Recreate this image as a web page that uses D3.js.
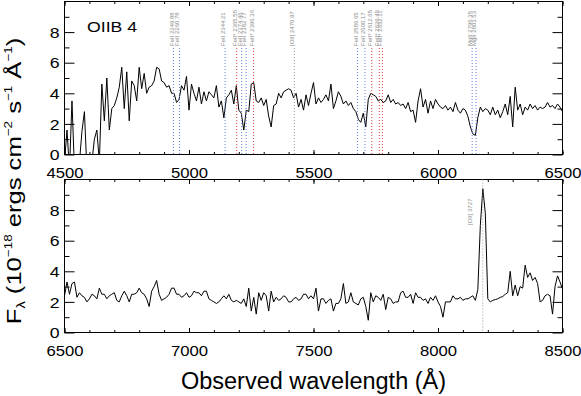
<!DOCTYPE html>
<html>
<head>
<meta charset="utf-8">
<script src="https://cdn.jsdelivr.net/npm/d3@7"></script>
<style>
  body { margin: 0; background: #fff; }
  svg { display: block; font-family: "Liberation Sans", Arial, Helvetica, sans-serif; }
</style>
</head>
<body>
<div id="chart"></div>
<script>
// spectrum is sampled every 10 Å, starting at the left edge of each panel
const topStart = 4500;
const botStart = 6500;
const sampleStep = 10;

// flux, 1e-18 erg/cm2/s/Å, 4500-6500 Å
const topFlux = [
  -0.5, 1.6, -1.0, 3.5, -1.0, -1.5, -0.5, 1.5, 2.8, -1.0,
  -1.5, -0.5, 1.0, 1.6, -0.5, 4.6, 2.2, 5.0, 1.6, 3.0,
  3.2, 3.7, 4.4, 5.7, 3.0, 5.4, 2.2, 4.8, 4.5, 3.5,
  5.7, 4.3, 5.3, 4.0, 4.4, 4.5, 4.8, 5.7, 5.6, 4.8,
  4.7, 4.4, 4.5, 4.0, 4.0, 3.4, 3.6, 4.5, 4.2, 5.1,
  2.9, 4.6, 4.0, 3.5, 4.4, 3.3, 4.1, 3.5, 4.1, 3.9,
  3.7, 4.5, 3.1, 3.5, 2.4, 3.7, 3.9, 4.2, 3.3, 4.5,
  2.9, 2.7, 1.6, 2.9, 2.8, 4.6, 4.7, 3.5, 3.4, 3.7,
  3.2, 3.6, 2.5, 1.8, 3.2, 3.3, 4.0, 3.7, 4.1, 4.2,
  4.3, 4.2, 3.7, 4.0, 3.1, 3.6, 2.9, 3.9, 3.2, 4.0,
  4.7, 3.3, 3.7, 3.4, 3.6, 3.9, 3.5, 4.6, 3.0, 3.5,
  4.1, 3.8, 3.3, 3.5, 3.2, 3.4, 3.0, 2.8, 2.3, 2.1,
  2.7, 1.8, 3.6, 4.0, 3.9, 3.8, 3.5, 3.6, 3.4, 3.5,
  3.9, 3.4, 3.6, 3.3, 3.4, 3.2, 3.3, 3.0, 3.4, 2.8,
  2.9, 2.1, 3.5, 4.3, 3.1, 3.6, 2.7, 3.5, 3.0, 3.6,
  3.3, 3.1, 3.0, 3.2, 2.9, 3.1, 2.8, 3.4, 2.9, 2.7,
  3.0, 2.9, 2.5, 1.8, 1.35, 1.25, 2.4, 3.1, 2.8, 3.0,
  2.9, 2.6, 3.1, 2.6, 2.9, 2.4, 2.8, 3.3, 2.6, 3.8,
  1.8, 4.4, 2.9, 3.3, 2.6, 3.1, 2.9, 3.3, 3.0, 3.2,
  2.9, 3.1, 3.0, 3.1, 3.4, 3.1, 3.2, 3.0, 3.3, 3.1,
  2.8
];

// flux, 6500-8500 Å
const botFlux = [
  2.4, 3.3, 2.5, 3.2, 3.3, 2.3, 2.6, 2.4, 2.3, 2.0,
  2.2, 2.5, 2.4, 2.2, 2.9, 2.5, 2.5, 2.2, 2.4, 2.5,
  2.6, 2.1, 2.0, 2.4, 2.7, 2.4, 2.0, 2.5, 2.5, 2.6,
  2.9, 2.6, 2.5, 2.2, 1.7, 2.7, 3.0, 3.4, 2.5, 2.1,
  2.2, 2.3, 2.5, 2.9, 2.9, 2.5, 2.5, 2.3, 2.4, 2.6,
  2.3, 2.4, 2.7, 2.6, 2.6, 2.4, 2.7, 2.7, 2.2, 2.1,
  2.0, 1.9, 2.0, 2.2, 2.4, 2.2, 2.5, 2.1, 2.0, 2.1,
  2.0, 1.9, 2.2, 1.7, 2.9, 1.4, 2.3, 1.2, 2.6, 2.1,
  2.6, 2.4, 1.4, 2.7, 2.0, 2.3, 2.1, 2.2, 2.4, 2.3,
  2.0, 2.0, 2.2, 2.3, 2.1, 2.2, 2.5, 2.5, 2.2, 2.4,
  2.2, 2.9, 1.4, 2.2, 2.2, 1.9, 2.1, 2.2, 1.4, 1.9,
  1.9, 2.2, 3.2, 1.9, 2.0, 2.6, 2.0, 1.9, 1.8, 2.2,
  2.3, 1.7, 0.8, 2.6, 2.0, 2.4, 2.3, 2.1, 2.5, 1.5,
  2.3, 2.2, 1.9, 2.0, 2.0, 2.6, 2.7, 2.3, 2.3, 2.5,
  1.9, 2.6, 2.3, 2.3, 2.1, 2.2, 1.9, 2.3, 2.1, 2.4,
  2.0, 1.7, 1.0, 2.0, 2.0, 2.0, 2.4, 2.2, 2.2, 2.3,
  2.1, 2.2, 2.2, 2.3, 2.4, 2.1, 2.8, 7.0, 9.4, 7.8,
  2.2, 2.0, 2.1, 2.15, 2.2, 2.3, 2.35, 2.5, 2.6, 4.0,
  2.4, 3.1, 2.4, 3.0, 2.9, 4.4, 3.6, 3.9, 3.4, 3.6,
  3.2, 2.0, 2.1, 2.4, 2.5, 2.4, 1.2, 3.0, 3.7, 3.3,
  2.85
];

const topTicks = [4500, 5000, 5500, 6000, 6500];
const botTicks = [6500, 7000, 7500, 8000, 8500];
const yLabelTicks = [0, 2, 4, 6, 8];

// absorber / emitter redshift
const redshift = 1.1947;

// marked lines in the top panel (rest wavelengths)
const absNames = [
  "FeII 2249.88", "FeII 2260.78", "FeII 2344.21", "FeII* 2365.55", "FeII 2374.46",
  "FeII 2382.77", "FeII* 2396.36", "[OII] 2470.97", "FeII 2586.65", "FeII 2600.17",
  "FeII* 2612.65", "FeII* 2626.45", "FeII* 2632.11", "MgII 2796.35", "MgII 2803.53"
];
const absRest = [
  2249.88, 2260.78, 2344.21, 2365.55, 2374.46,
  2382.77, 2396.36, 2470.97, 2586.65, 2600.17,
  2612.65, 2626.45, 2632.11, 2796.35, 2803.53
];
const absKind = [
  "res", "res", "res", "fs", "res",
  "res", "fs", "em", "res", "res",
  "fs", "fs", "fs", "res", "res"
];

// marked lines in the bottom panel
const emNames = ["[OII] 3727"];
const emRest = [3727.09];

const kindColor = { res: "#5b7fd6", fs: "#e2403c", em: "#9a9a9a" };
const stretch = 1.22;     // the plot's lettering is wider than the stock font
const tickStretch = 1.15;

const W = 581, H = 396;
const plotLeft = 64.5, plotRight = 562.5;

const svg = d3.select("#chart").append("svg")
  .attr("width", W)
  .attr("height", H);

const panels = [
  { top: 1.5, bottom: 154.5, start: topStart, flux: topFlux, ticks: topTicks },
  { top: 179.5, bottom: 332.5, start: botStart, flux: botFlux, ticks: botTicks }
];

panels.forEach((p, pi) => {
  const x = d3.scaleLinear().domain([p.start, p.start + 2000]).range([plotLeft, plotRight]);
  const y = d3.scaleLinear().domain([0, 10]).range([p.bottom, p.top]);
  p.x = x; p.y = y;

  const g = svg.append("g").attr("class", "panel-" + pi);

  // clip the spectrum to the frame
  g.append("clipPath").attr("id", "clip" + pi)
    .append("rect")
      .attr("x", plotLeft).attr("y", p.top)
      .attr("width", plotRight - plotLeft).attr("height", p.bottom - p.top);

  const line = d3.line()
    .x((d, i) => x(p.start + i * sampleStep))
    .y(d => y(d));

  // minor x ticks (100 Å)
  const minorX = d3.range(p.start, p.start + 2001, 100);
  g.append("g").attr("transform", `translate(0,${p.bottom})`)
    .call(d3.axisBottom(x).tickValues(minorX).tickSize(-2.5).tickFormat(""));
  g.append("g").attr("transform", `translate(0,${p.top})`)
    .call(d3.axisTop(x).tickValues(minorX).tickSize(-2.5).tickFormat(""));

  // major x ticks with labels
  g.append("g").attr("class", "x-axis").attr("transform", `translate(0,${p.bottom})`)
    .call(d3.axisBottom(x).tickValues(p.ticks).tickSize(-4.5).tickPadding(13).tickFormat(d3.format("d")));
  g.append("g").attr("transform", `translate(0,${p.top})`)
    .call(d3.axisTop(x).tickValues(p.ticks).tickSize(-4.5).tickFormat(""));

  // y ticks both sides
  g.append("g").attr("transform", `translate(${plotLeft},0)`)
    .call(d3.axisLeft(y).tickValues([1, 3, 5, 7, 9]).tickSize(-5).tickFormat(""));
  g.append("g").attr("transform", `translate(${plotRight},0)`)
    .call(d3.axisRight(y).tickValues([1, 3, 5, 7, 9]).tickSize(-5).tickFormat(""));
  g.append("g").attr("class", "y-axis").attr("transform", `translate(${plotLeft},0)`)
    .call(d3.axisLeft(y).tickValues(yLabelTicks).tickSize(-10).tickPadding(5).tickFormat(d3.format("d")));
  g.append("g").attr("transform", `translate(${plotRight},0)`)
    .call(d3.axisRight(y).tickValues(yLabelTicks).tickSize(-10).tickFormat(""));

  g.selectAll(".domain").remove();
  g.selectAll(".tick line").attr("stroke", "#000").attr("stroke-width", 1);
  g.selectAll(".tick text")
    .attr("fill", "#000")
    .style("font-size", "14.5px")
    .style("font-family", "'Liberation Sans', Arial, sans-serif");
  g.select(".x-axis").selectAll(".tick text")
    .attr("transform", `scale(${tickStretch},1)`);
  g.select(".y-axis").selectAll(".tick text")
    .attr("x", -5 / stretch)
    .attr("dy", "0.36em")
    .attr("transform", `scale(${stretch},1)`);

  // frame
  g.append("rect")
    .attr("x", plotLeft).attr("y", p.top)
    .attr("width", plotRight - plotLeft).attr("height", p.bottom - p.top)
    .attr("fill", "none").attr("stroke", "#000").attr("stroke-width", 1);

  // spectrum
  g.append("path")
    .datum(p.flux)
    .attr("clip-path", `url(#clip${pi})`)
    .attr("d", line)
    .attr("fill", "none")
    .attr("stroke", "#000")
    .attr("stroke-width", 1)
    .attr("stroke-linejoin", "round");
});

// line markers in the top panel
const topPanel = panels[0];
const absG = svg.append("g").attr("class", "abs-lines");
absRest.forEach((rest, i) => {
  const xp = topPanel.x(rest * (1 + redshift));
  absG.append("line")
    .attr("x1", xp).attr("x2", xp)
    .attr("y1", 48).attr("y2", topPanel.bottom)
    .attr("stroke", kindColor[absKind[i]])
    .attr("stroke-width", 1)
    .attr("stroke-dasharray", "1,2");
  absG.append("text")
    .attr("transform", `translate(${xp},46) rotate(-90)`)
    .attr("fill", "#8a8a8a")
    .style("font-size", "6px")
    .text(absNames[i]);
});

// line marker in the bottom panel
const botPanel = panels[1];
emRest.forEach((rest, i) => {
  const xp = botPanel.x(rest * (1 + redshift));
  svg.append("line")
    .attr("x1", xp).attr("x2", xp)
    .attr("y1", botPanel.top).attr("y2", botPanel.bottom)
    .attr("stroke", kindColor.em)
    .attr("stroke-width", 1)
    .attr("stroke-dasharray", "1,2");
  svg.append("text")
    .attr("transform", `translate(${xp - 11},225) rotate(-90)`)
    .attr("fill", "#8a8a8a")
    .style("font-size", "6px")
    .text(emNames[i]);
});

// object name
svg.append("text")
  .attr("transform", `translate(87,31.7) scale(${stretch},1)`)
  .style("font-size", "14.5px")
  .text("OIIB 4");

// x-axis title
svg.append("text")
  .attr("x", (plotLeft + plotRight) / 2)
  .attr("y", 389)
  .attr("text-anchor", "middle")
  .style("font-size", "23.5px")
  .text("Observed wavelength (Å)");

// y-axis title
const yt = svg.append("text")
  .attr("transform", `translate(21,181) rotate(-90) scale(${stretch},1)`)
  .attr("text-anchor", "middle")
  .style("font-size", "21px");
yt.append("tspan").text("F");
yt.append("tspan").style("font-size", "12px").attr("dy", 4).text("λ");
yt.append("tspan").attr("dy", -4).text(" (10");
yt.append("tspan").style("font-size", "11px").attr("dy", -9).text("−18");
yt.append("tspan").attr("dy", 9).text(" ergs cm");
yt.append("tspan").style("font-size", "11px").attr("dy", -9).text("−2");
yt.append("tspan").attr("dy", 9).text(" s");
yt.append("tspan").style("font-size", "11px").attr("dy", -9).text("−1");
yt.append("tspan").attr("dy", 9).text(" Å");
yt.append("tspan").style("font-size", "11px").attr("dy", -9).text("−1");
yt.append("tspan").attr("dy", 9).text(")");
</script>
</body>
</html>
